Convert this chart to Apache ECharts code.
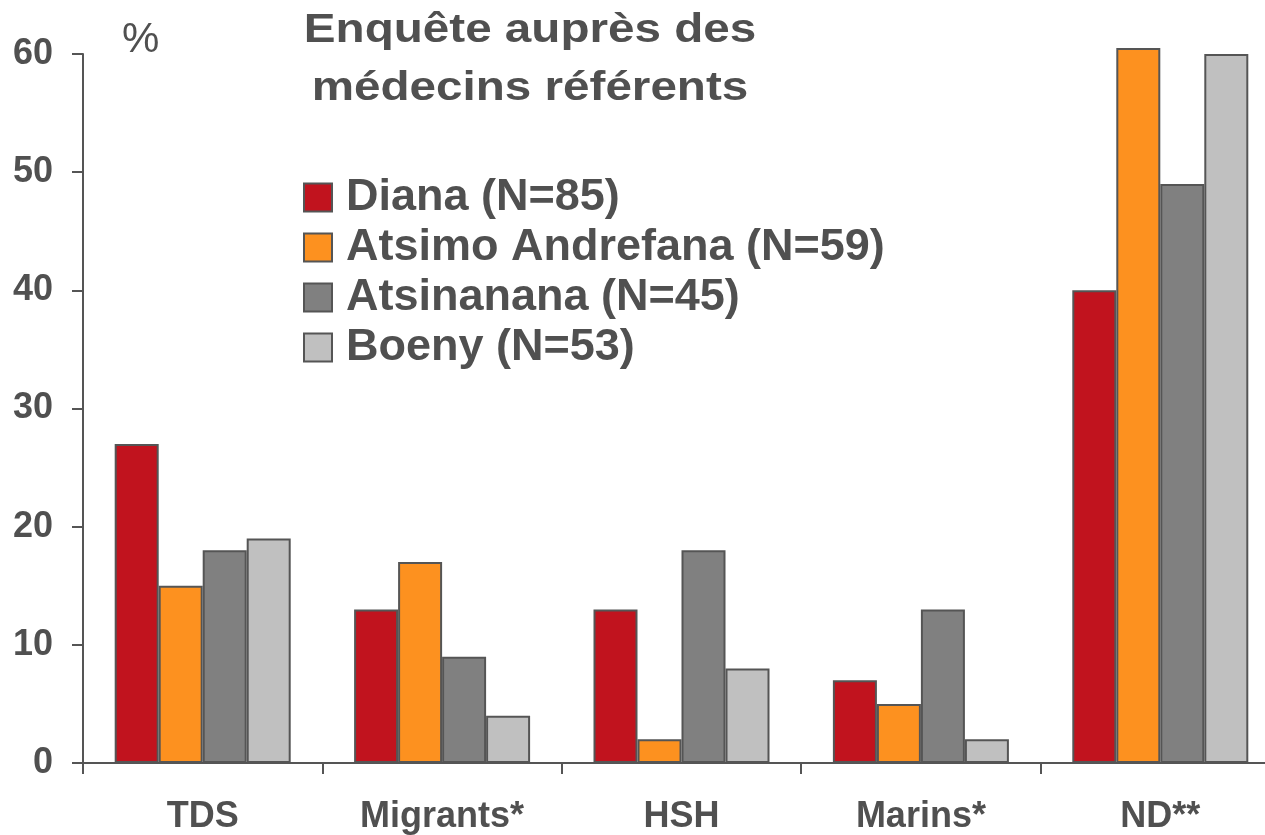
<!DOCTYPE html>
<html>
<head>
<meta charset="utf-8">
<script src="https://cdn.jsdelivr.net/npm/echarts@6/dist/echarts.min.js"></script>
<style>
  html, body { margin: 0; padding: 0; background: #fff; }
  #chart { width: 1265px; height: 835px; }
</style>
</head>
<body>
<div id="chart"></div>
<script>
// Categories and series (percent)
const categories = ["TDS", "Migrants*", "HSH", "Marins*", "ND**"];
const seriesNames = ["Diana (N=85)", "Atsimo Andrefana (N=59)", "Atsinanana (N=45)", "Boeny (N=53)"];
const diana = [27, 13, 13, 7, 40];
const atsimo = [15, 17, 2, 5, 60.5];
const atsinanana = [18, 9, 18, 13, 49];
const boeny = [19, 4, 8, 2, 60];
const yTicks = [0, 10, 20, 30, 40, 50, 60];

const colors = ["#c1131e", "#fd911f", "#808080", "#c0c0c0"];
const ink = "#505050";
const font = "'Liberation Sans', Arial, sans-serif";

const chart = echarts.init(document.getElementById("chart"));

function barSeries(name, data, color) {
    return {
        name: name,
        type: "bar",
        data: data,
        barWidth: 44,
        barGap: "0%",
        clip: false,
        itemStyle: { color: color, borderColor: "#555", borderWidth: 2 },
        emphasis: { disabled: true },
    };
}

chart.setOption({
    animation: false,
    textStyle: { fontFamily: font },
    // plot runs a bit past the right edge, as in the original slide
    grid: {
        left: 83,
        width: 1197,
        top: 54,
        bottom: 72,
        containLabel: false,
        outerBoundsMode: "none",
    },
    graphic: [
        {
            type: "text",
            left: 122,
            top: 19,
            style: { text: "%", font: "normal 42px " + font, fill: ink },
        },
        {
            type: "text",
            x: 530,
            y: 2,
            scaleX: 1.19,
            style: {
                text: "Enquête auprès des\nmédecins référents",
                font: "bold 40px " + font,
                fill: ink,
                align: "center",
                lineHeight: 58,
            },
        },
    ],
    legend: {
        orient: "vertical",
        left: 303,
        top: 175,
        padding: 0,
        itemWidth: 28,
        itemHeight: 28,
        itemGap: 5,
        icon: "rect",
        data: seriesNames,
        textStyle: {
            fontFamily: font,
            fontSize: 45,
            fontWeight: "bold",
            color: ink,
            padding: [0, 0, 0, 9],
        },
        selectedMode: false,
    },
    xAxis: {
        type: "category",
        data: categories,
        axisLine: { lineStyle: { color: "#555", width: 2 } },
        axisTick: { show: true, length: 11, lineStyle: { color: "#555", width: 2 } },
        axisLabel: {
            margin: 36,
            fontSize: 36,
            fontWeight: "bold",
            color: ink,
            fontFamily: font,
        },
    },
    yAxis: {
        type: "value",
        min: 0,
        max: 60,
        interval: 10,
        splitLine: { show: false },
        axisLine: { show: true, lineStyle: { color: "#555", width: 2 } },
        axisTick: { show: true, length: 11, lineStyle: { color: "#555", width: 2 } },
        axisLabel: {
            margin: 30,
            fontSize: 36,
            fontWeight: "bold",
            color: ink,
            fontFamily: font,
            formatter: (v) => (yTicks.includes(v) ? String(v) : ""),
        },
    },
    series: [
        barSeries(seriesNames[0], diana, colors[0]),
        barSeries(seriesNames[1], atsimo, colors[1]),
        barSeries(seriesNames[2], atsinanana, colors[2]),
        barSeries(seriesNames[3], boeny, colors[3]),
    ],
});
</script>
</body>
</html>
